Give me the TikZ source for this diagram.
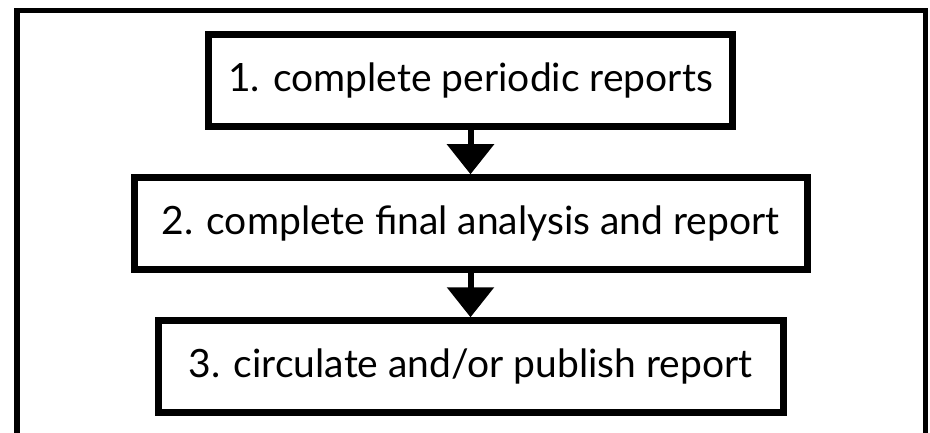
\documentclass[tikz,border=0pt]{standalone}
\usepackage{fontspec}
\setmainfont{Lato}
\usetikzlibrary{arrows.meta,positioning}
\tikzset{%
  >={Triangle[width=46pt,length=30pt]},
  % Specifications for style of nodes:
        base/.style = {rectangle, draw=black, line width=7pt,
                       minimum height=92pt, inner xsep=10pt,
                       text centered, font=\fontsize{39}{41}\selectfont},
  stage/.style = {base, fill=white},
}
\begin{document}
\begin{tikzpicture}[x=1pt, y=-1pt, node distance=44pt]
  \useasboundingbox (0,0) rectangle (930,433);
  % frame round the steps, open at the bottom
  \draw[line width=5.5pt] (17,433) -- (17,10.5) -- (925.5,10.5) -- (925.5,433);
  % Specification of nodes (position, etc.)
  \node (periodic) [stage, minimum width=524pt] at (470.5,80.75) {1. complete periodic reports};
  \node (final)    [stage, minimum width=673pt, below=of periodic] {2. complete final analysis and report};
  \node (publish)  [stage, minimum width=625pt, below=of final]    {3. circulate and/or publish report};
  % Specification of lines between nodes
  \draw[->, line width=6pt] (periodic) -- (final);
  \draw[->, line width=6pt] (final) -- (publish);
\end{tikzpicture}
\end{document}
